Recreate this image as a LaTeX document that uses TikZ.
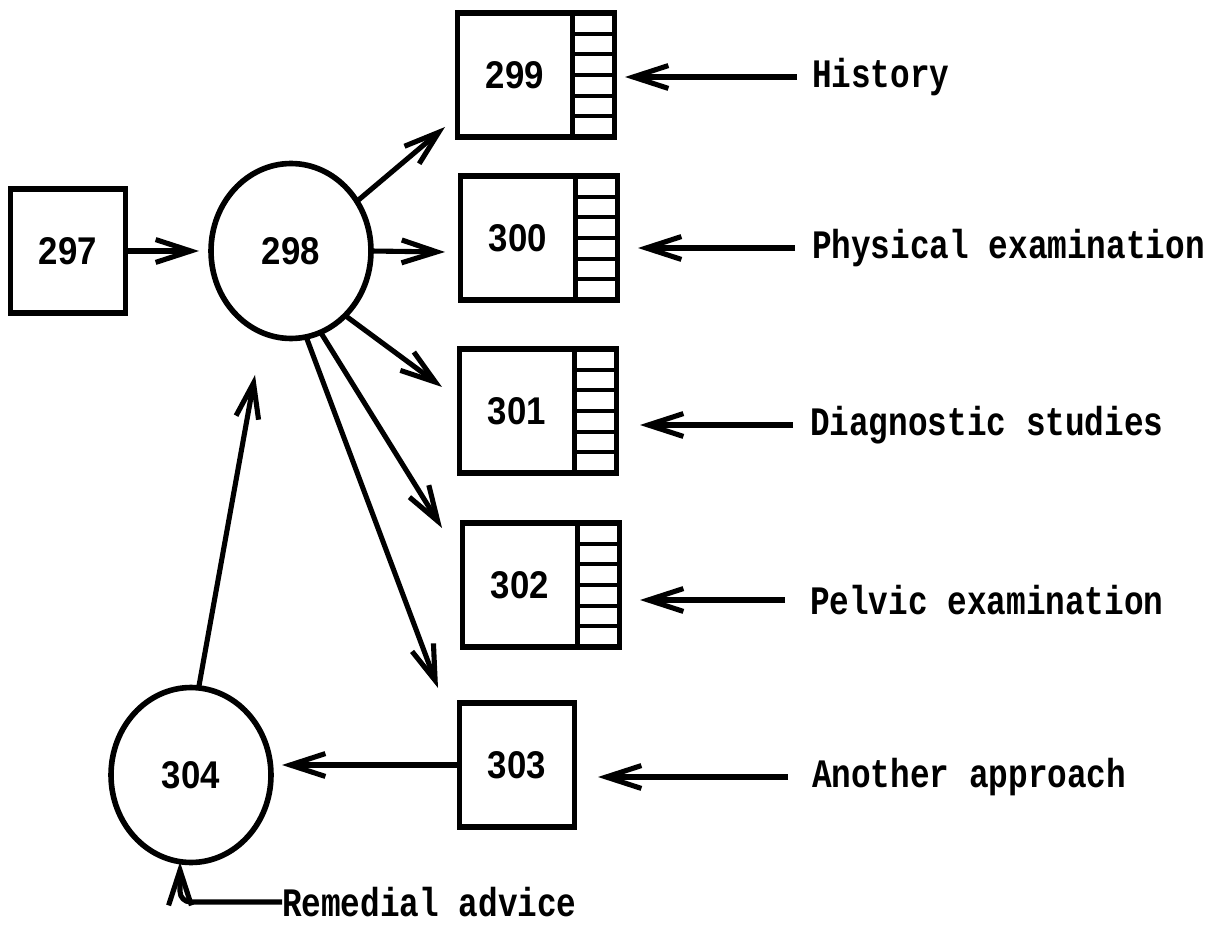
\documentclass[tikz,border=0pt]{standalone}
\usepackage{fontspec}
\newfontfamily\notefont[FakeStretch=0.81]{Liberation Mono}
\newfontfamily\numfont[FakeStretch=0.9]{Liberation Sans}
\usetikzlibrary{positioning}
\usetikzlibrary{calc,arrows.meta}
\usetikzlibrary{shapes.geometric}

\begin{document}
\begin{tikzpicture}[x=0.02cm,y=-0.02cm,every node/.style={outer sep=0pt},
		block/.style={draw,line width=3.2pt,minimum width=2.3cm,minimum
		height=2.48cm,font=\numfont\bfseries\fontsize{22}{24}\selectfont},
		tabs/.style={draw,line width=3.2pt,minimum width=0.84cm,minimum
		height=2.48cm,anchor=west},
		state/.style={draw,ellipse,line width=3.2pt,minimum width=3.2cm,minimum
		height=3.5cm,font=\numfont\bfseries\fontsize{22}{24}\selectfont},
		note/.style={anchor=west,inner sep=0pt,font=\notefont\bfseries\fontsize{23}{26}\selectfont},
		arr/.style={line width=2.9pt,-{Straight Barb[length=20pt,width=13pt]}},
		]
		\useasboundingbox (0,0) rectangle (1226,925);

		\node[block] (b297) at (68,251) {297};
		\node[state] (c298) at (291,251) {298};
		\node[block] (b299) at (515,75) {299};
		\node[block] (b300) at (518,238) {300};
		\node[block] (b301) at (517,411) {301};
		\node[block] (b302) at (520,585) {302};
		\node[block] (b303) at (517,765) {303};
		\node[state] (c304) at (191,775) {304};

		\foreach \b in {299,300,301,302}{
			\node[tabs] (s\b) at (b\b.east) {};
			\foreach \k in {1,...,5}
				\draw[line width=2.2pt] ($(s\b.north west)!\k/6!(s\b.south west)$) -- ($(s\b.north east)!\k/6!(s\b.south east)$);
		}

		\node[note] (nhist) at (812,77) {History};
		\node[note] (nphys) at (812,248) {Physical examination};
		\node[note] (ndiag) at (810,425) {Diagnostic studies};
		\node[note] (npelv) at (810,600) {Pelvic examination};
		\node[note] (nanot) at (812,777) {Another approach};
		\node[note] (nrem) at (282,902) {Remedial advice};

		\coordinate (t299) at (445,127);
		\coordinate (t300) at (445,252);
		\coordinate (t301) at (442,387);
		\coordinate (t302) at (442,528);
		\coordinate (t303) at (438,688);
		\coordinate (t298) at (255,375);
		\coordinate (t304) at (282,765);
		\coordinate (u304) at (180,862);
		\coordinate (h299) at (625,77);
		\coordinate (h300) at (638,248);
		\coordinate (h301) at (640,425);
		\coordinate (h302) at (640,600);
		\coordinate (h303) at (598,777);

		\draw[arr,shorten >=0.24cm] (b297) -- (c298);
		\draw[arr] (c298.37) -- (t299);
		\draw[arr] (c298.east) -- (t300);
		\draw[arr] (c298.-50) -- (t301);
		\draw[arr] (c298.-70) -- (t302);
		\draw[arr] (c298.-80) -- (t303);
		\draw[arr] (b303.west) -- (t304);
		\draw[arr] (c304.85) -- (t298);
		\draw[arr,rounded corners=6pt] (nrem) -| (u304);

		\draw[arr,shorten <=0.3cm] (nhist) -- (h299);
		\draw[arr,shorten <=0.34cm] (nphys) -- (h300);
		\draw[arr,shorten <=0.34cm] (ndiag) -- (h301);
		\draw[arr,shorten <=0.5cm] (npelv) -- (h302);
		\draw[arr,shorten <=0.48cm] (nanot) -- (h303);
\end{tikzpicture}
\end{document}
